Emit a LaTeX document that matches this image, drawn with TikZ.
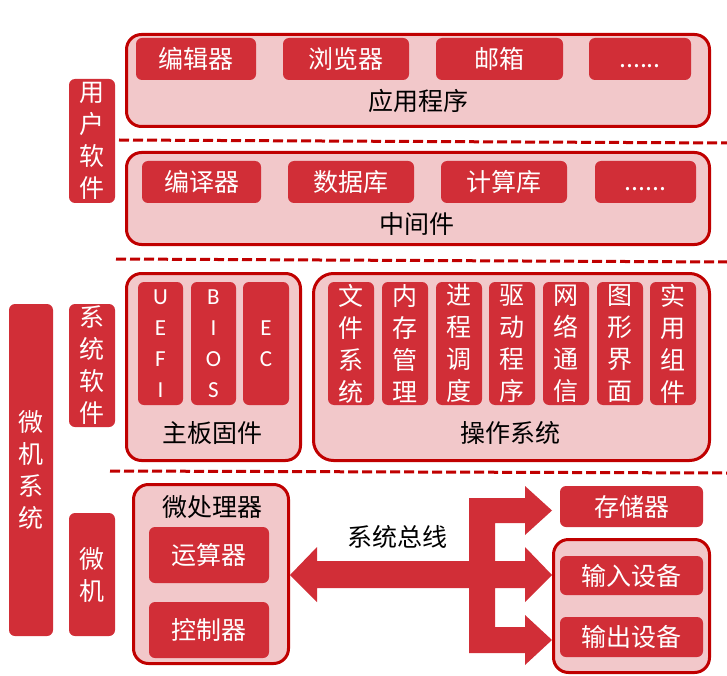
\documentclass[tikz,border=0pt]{standalone}
\usepackage{fontspec}
\setmainfont{Noto Sans CJK SC}
\newfontfamily\latinfont{Carlito}
\definecolor{darkred}{HTML}{C00000}
\definecolor{cellred}{HTML}{D12E37}
\definecolor{lightpink}{HTML}{F2C8CA}

\begin{document}
\begin{tikzpicture}[x=1pt,y=-1pt,
  outer/.style={draw=darkred,line width=3pt,fill=lightpink,rounded corners=15pt,inner sep=0pt},
  cell/.style={fill=cellred,rounded corners=6pt,text=white,inner sep=0pt,font=\fontsize{25}{30}\selectfont},
  vcell/.style={cell,minimum width=46pt,minimum height=123pt,align=center,font=\fontsize{25}{32}\selectfont},
  letters/.style={font=\latinfont\fontsize{23}{31}\selectfont},
  title/.style={inner sep=0pt,font=\fontsize{25}{30}\selectfont},
  sep/.style={draw=darkred,line width=3pt,dash pattern=on 10pt off 4pt}]
  \useasboundingbox (0,0) rectangle (727,676);

  % 应用程序
  \node[outer,minimum width=583pt,minimum height=92pt] (app) at (418,80.5) {};
  \node[cell,minimum width=120pt,minimum height=42pt] (bjq) at (196,59) {编辑器};
  \node[cell,minimum width=126pt,minimum height=42pt] (llq) at (346,59) {浏览器};
  \node[cell,minimum width=127pt,minimum height=42pt] (yx) at (499.5,59) {邮箱};
  \node[cell,minimum width=102pt,minimum height=42pt] (etc1) at (640,59) {\vphantom{器}......};
  \node[title] (applabel) at (418,101) {应用程序};

  % 中间件
  \node[outer,minimum width=583pt,minimum height=92pt] (mid) at (418,198.5) {};
  \node[cell,minimum width=119pt,minimum height=42pt] (byq) at (201.5,182) {编译器};
  \node[cell,minimum width=126pt,minimum height=42pt] (sjk) at (351,182) {数据库};
  \node[cell,minimum width=126pt,minimum height=42pt] (jsk) at (504,182) {计算库};
  \node[cell,minimum width=101pt,minimum height=42pt] (etc2) at (645.5,182) {\vphantom{器}......};
  \node[title] (midlabel) at (417,224) {中间件};

  % 分隔虚线
  \coordinate (s1a) at (119,140);  \coordinate (s1b) at (727,143);
  \coordinate (s2a) at (116,259);  \coordinate (s2b) at (727,262);
  \coordinate (s3a) at (110,471);  \coordinate (s3b) at (727,473);
  \draw[sep] (s1a) -- (s1b);
  \draw[sep] (s2a) -- (s2b);
  \draw[sep] (s3a) -- (s3b);

  % 左侧标签
  \node[vcell,minimum height=124pt] (yhrj) at (92,141) {用\\户\\软\\件};
  \node[vcell] (xtrj) at (92,365.5) {系\\统\\软\\件};
  \node[vcell] (wj) at (92,574.5) {微\\机};
  \node[vcell,minimum width=44pt,minimum height=332pt] (wjxt) at (31,470) {微\\机\\系\\统};

  % 主板固件
  \node[outer,minimum width=174pt,minimum height=187pt] (fw) at (213.5,367) {};
  \node[vcell,minimum width=45pt,letters] (uefi) at (160.5,343.5) {U\\E\\F\\I};
  \node[vcell,minimum width=45pt,letters] (bios) at (213.5,343.5) {B\\I\\O\\S};
  \node[vcell,letters] (ec) at (266,343.5) {E\\C};
  \node[title] (fwlabel) at (212,433) {主板固件};

  % 操作系统
  \node[outer,minimum width=396pt,minimum height=187pt,rounded corners=20pt] (os) at (511.5,367) {};
  \node[vcell] (wjxt2) at (351,343.5) {文\\件\\系\\统};
  \node[vcell] (nc) at (405,343.5) {内\\存\\管\\理};
  \node[vcell] (jc) at (459,343.5) {进\\程\\调\\度};
  \node[vcell] (qd) at (512,343.5) {驱\\动\\程\\序};
  \node[vcell] (wl) at (566,343.5) {网\\络\\通\\信};
  \node[vcell] (tx) at (620,343.5) {图\\形\\界\\面};
  \node[vcell] (sy) at (673,343.5) {实\\用\\组\\件};
  \node[title] (oslabel) at (510,433) {操作系统};

  % 微处理器
  \node[outer,minimum width=155pt,minimum height=179pt] (cpu) at (211,574) {};
  \node[title] (cpulabel) at (212,507) {微处理器};
  \node[cell,minimum width=120pt,minimum height=56pt] (ysq) at (209,555) {运算器};
  \node[cell,minimum width=120pt,minimum height=56pt] (kzq) at (209,630) {控制器};

  % 系统总线
  \fill[cellred] (290,575) -- (317,547) -- (317,561) -- (469,561) -- (469,498)
    -- (525,498) -- (525,486) -- (552,510.5) -- (525,535) -- (525,523) -- (495,523)
    -- (495,561) -- (525,561) -- (525,547) -- (552,575) -- (525,602) -- (525,588)
    -- (495,588) -- (495,627) -- (525,627) -- (525,615) -- (552,640) -- (525,665)
    -- (525,653) -- (469,653) -- (469,588) -- (317,588) -- (317,602) -- cycle;
  \node[title] (bus) at (397,537) {系统总线};

  % 存储器与输入输出
  \node[cell,minimum width=143pt,minimum height=41pt] (ccq) at (631.5,506.5) {存储器};
  \node[outer,minimum width=156pt,minimum height=133pt] (io) at (631.5,606) {};
  \node[cell,minimum width=143pt,minimum height=39pt] (srsb) at (631.5,575.5) {输入设备};
  \node[cell,minimum width=143pt,minimum height=40pt] (scsb) at (631.5,637) {输出设备};
\end{tikzpicture}
\end{document}
